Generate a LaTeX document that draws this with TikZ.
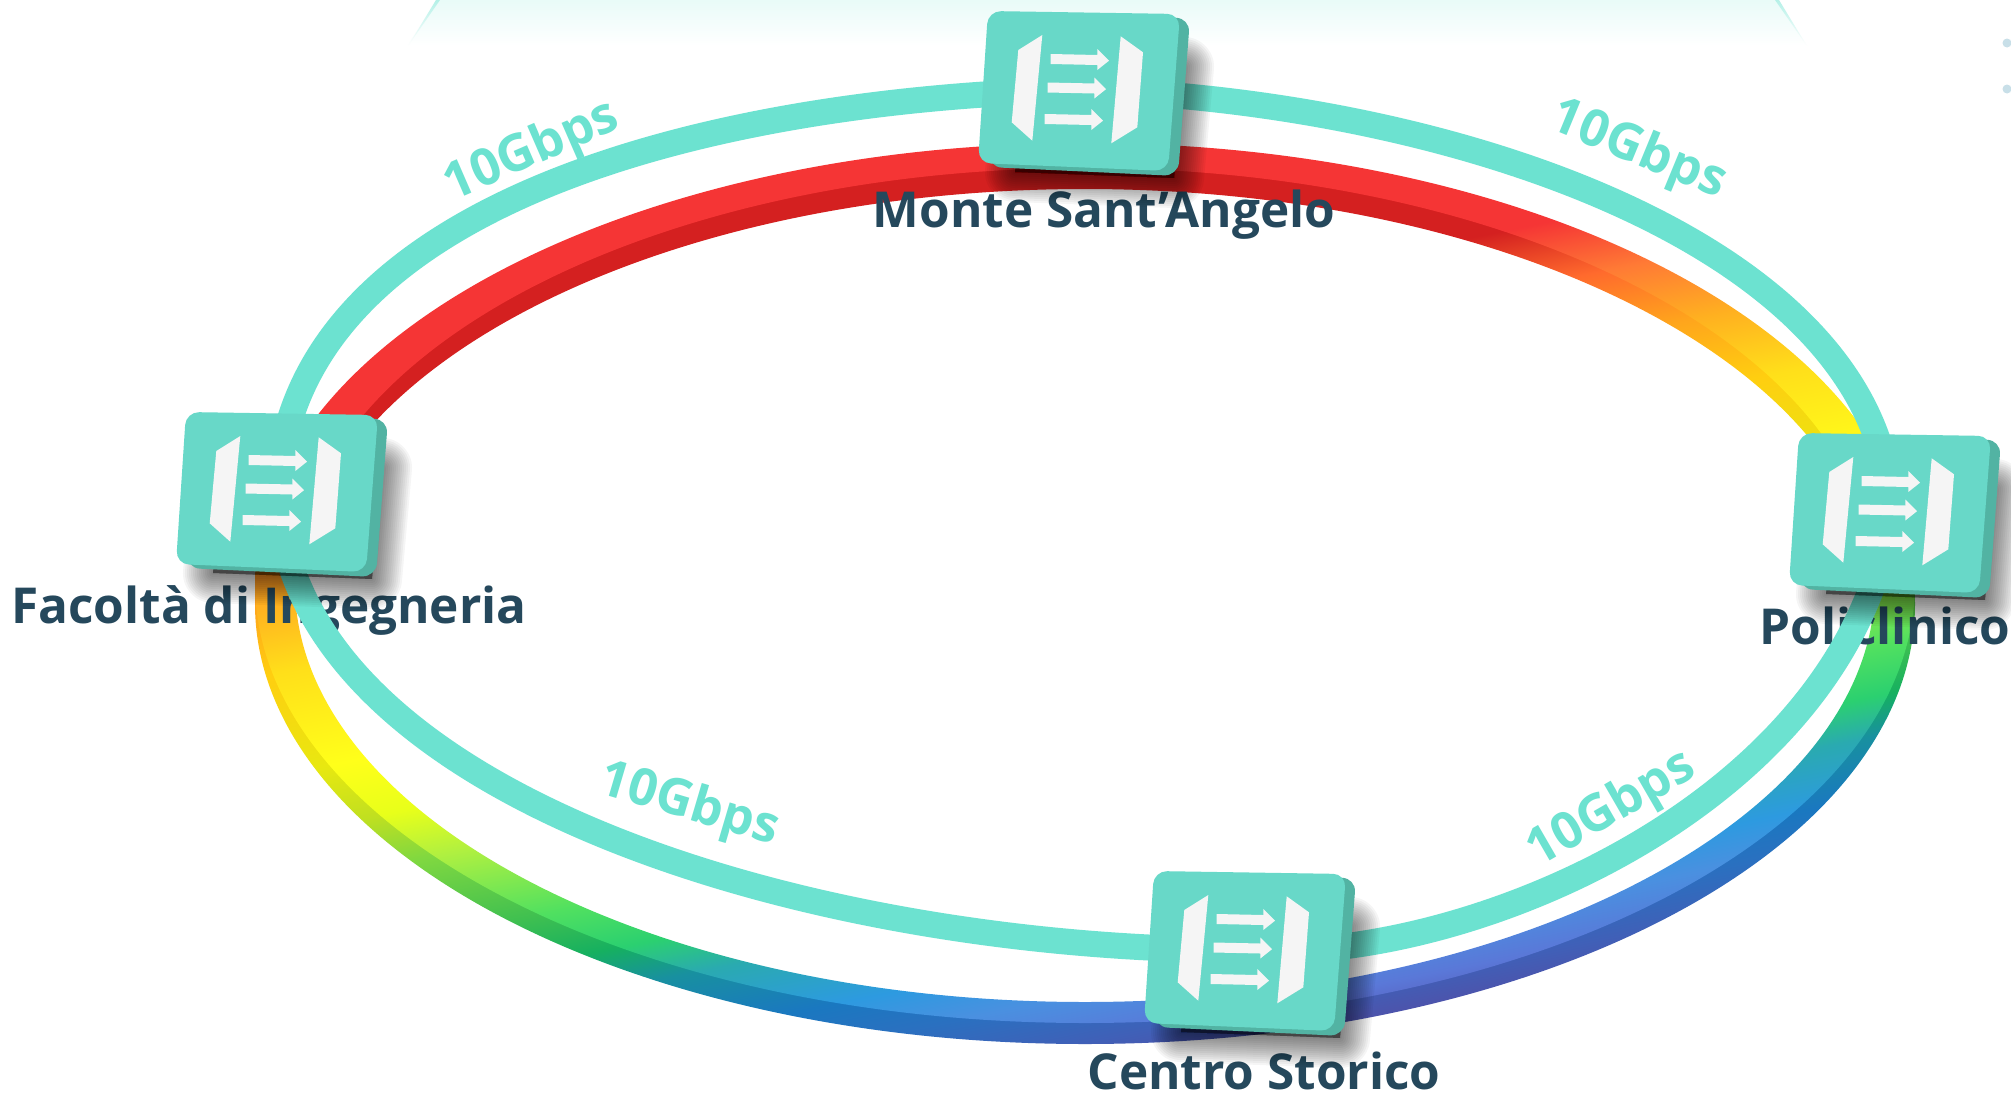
\documentclass[tikz,border=0pt]{standalone}
\usepackage{fontspec}
\setmainfont{Open Sans}
\usepackage{xcolor}

\definecolor{linkteal}{HTML}{6CE2D0}
\definecolor{faceteal}{HTML}{68D8C8}
\definecolor{sideteal}{HTML}{52B3A3}
\definecolor{iconwhite}{HTML}{F5F5F5}
\definecolor{labelblue}{HTML}{25485C}
\definecolor{dotblue}{HTML}{C8DFE8}
\definecolor{ringred}{HTML}{F53535}
\definecolor{ringcoral}{HTML}{FF7A35}
\definecolor{ringamber}{HTML}{FFB020}
\definecolor{ringgold}{HTML}{FFDF1A}
\definecolor{ringyellow}{HTML}{FFFF1A}
\definecolor{ringlemon}{HTML}{E8FF1A}
\definecolor{ringlime}{HTML}{B0F040}
\definecolor{ringleaf}{HTML}{50E060}
\definecolor{ringgreen}{HTML}{2BD070}
\definecolor{ringsea}{HTML}{2AAAB0}
\definecolor{ringblue}{HTML}{2D9AE0}
\definecolor{ringsky}{HTML}{4A90E0}
\definecolor{ringperi}{HTML}{5A78D8}
\definecolor{ringviolet}{HTML}{5A5AB8}

\pgfdeclareverticalshading{ringrainbow}{100bp}{
  color(0bp)=(ringviolet); color(29.5bp)=(ringviolet); color(30.9bp)=(ringperi);
  color(32.6bp)=(ringsky); color(34bp)=(ringblue); color(36.1bp)=(ringsea);
  color(37.5bp)=(ringgreen); color(39.2bp)=(ringleaf); color(42bp)=(ringlime);
  color(43.8bp)=(ringlemon); color(45.9bp)=(ringyellow); color(49.5bp)=(ringgold);
  color(52bp)=(ringamber); color(54.3bp)=(ringcoral); color(56.4bp)=(ringred);
  color(100bp)=(ringred)}
\pgfdeclareverticalshading{ringrainbowdark}{100bp}{
  rgb(0bp)=(.314,.314,.66); rgb(29.5bp)=(.314,.314,.66); rgb(30.9bp)=(.25,.376,.72);
  rgb(32.6bp)=(.165,.44,.753); rgb(34bp)=(.102,.47,.753); rgb(36.1bp)=(.094,.565,.627);
  rgb(37.5bp)=(.086,.69,.376); rgb(39.2bp)=(.251,.753,.314); rgb(42bp)=(.502,.847,.251);
  rgb(43.8bp)=(.753,.878,.125); rgb(45.9bp)=(.91,.91,.063); rgb(49.5bp)=(1,.808,.063);
  rgb(52bp)=(1,.647,.11); rgb(54.3bp)=(1,.415,.176); rgb(56.4bp)=(.83,.125,.125);
  rgb(100bp)=(.83,.125,.125)}

\tikzset{
  linkline/.style={draw=linkteal,line width=26pt},
  linkrate/.style={text=linkteal,font=\bfseries\fontsize{51}{51}\selectfont,inner sep=0pt},
  sitelabel/.style={text=labelblue,font=\bfseries\fontsize{49.5}{49.5}\selectfont,inner sep=0pt},
  ringband/.style={shading=#1,transform canvas={rotate=11.3}},
  switchbox/.pic={
    \foreach \w in {60,56,...,4} {
      \draw[black,fill=black,opacity=0.04,line width=\w pt,line join=round]
        (-55,-25) -- (104,-23) -- (94,88) -- (-65,82) -- cycle;
    }
    \fill[sideteal,rounded corners=14pt] (-82,-75) -- (110,-72) -- (98,86) -- (-92,77) -- cycle;
    \fill[faceteal,rounded corners=13pt] (-92,-79) -- (100,-76) -- (88,81) -- (-102,73) -- cycle;
    \fill[iconwhite] (-37.7,-55) -- (-61.7,-40) -- (-68.3,32.3) -- (-47.7,50.7) -- cycle;
    \fill[iconwhite] (40.7,-53.7) -- (63,-37.7) -- (57.3,37.3) -- (31.3,53.3) -- cycle;
    \foreach \dx/\dy in {0/0,-3/28.5,-6/60} {
      \fill[iconwhite,shift={(\dx,\dy)}] (-29.3,-36) -- (17.3,-35) -- (17.3,-41) -- (29,-29.3)
        -- (17.3,-20) -- (17.3,-25) -- (-29.3,-26) -- cycle;
    }
  }
}

\begin{document}
\begin{tikzpicture}[x=1pt,y=-1pt]
    \useasboundingbox (0,0) rectangle (2011,1093);
    \fill[white] (0,0) rectangle (2011,1093);
    %
    \shade[top color=linkteal!15,bottom color=white]
      (438,0) -- (1777,0) -- (1807,46) -- (407,46) -- cycle;
    \shade[top color=linkteal!50,bottom color=white] (436,0) -- (440,0) -- (408,46) -- cycle;
    \shade[top color=linkteal!50,bottom color=white] (1775,0) -- (1779,0) -- (1807,46) -- cycle;
    \fill[dotblue] (2007,43) circle (4.5);
    \fill[dotblue] (2007,89) circle (4.5);
    %
    \begin{scope}[even odd rule]
      \clip (1085,604) ellipse [x radius=830,y radius=440]
        (1085,604) ellipse [x radius=790,y radius=415];
      \shade[ringband=ringrainbowdark] (-500,0) rectangle (3000,1400);
    \end{scope}
    \begin{scope}[even odd rule]
      \clip (1085,583) ellipse [x radius=830,y radius=440]
        (1085,585) ellipse [x radius=790,y radius=417];
      \shade[ringband=ringrainbow] (-500,0) rectangle (3000,1400);
    \end{scope}
    %
    \node[sitelabel] (monteLabel) at (1104,215) {Monte Sant’Angelo};
    \node[sitelabel] (facoltaLabel) at (269,610) {Facoltà di Ingegneria};
    \node[sitelabel] (poliLabel) at (1885,626) {Policlinico};
    \node[sitelabel] (centroLabel) at (1264,1071) {Centro Storico};
    %
    \coordinate (monte) at (1080,90);
    \coordinate (poli) at (1891,512);
    \coordinate (centro) at (1246,950);
    \coordinate (facolta) at (278,491);
    %
    \draw[linkline] (monte) .. controls (1450,100) and (1882,245) .. (poli);
    \draw[linkline] (poli) .. controls (1850,800) and (1470,965) .. (centro);
    \draw[linkline] (centro) .. controls (800,950) and (285,790) .. (facolta);
    \draw[linkline] (facolta) .. controls (288,215) and (680,100) .. (monte);
    %
    \node[linkrate,rotate=23.5] (rateA) at (532,152) {10Gbps};
    \node[linkrate,rotate=-22.4] (rateB) at (1638,151) {10Gbps};
    \node[linkrate,rotate=-16.5] (rateC) at (689,806) {10Gbps};
    \node[linkrate,rotate=30] (rateD) at (1612,810) {10Gbps};
    %
    \pic at (monte) {switchbox};
    \pic at (poli) {switchbox};
    \pic at (centro) {switchbox};
    \pic at (facolta) {switchbox};
\end{tikzpicture}
\end{document}
